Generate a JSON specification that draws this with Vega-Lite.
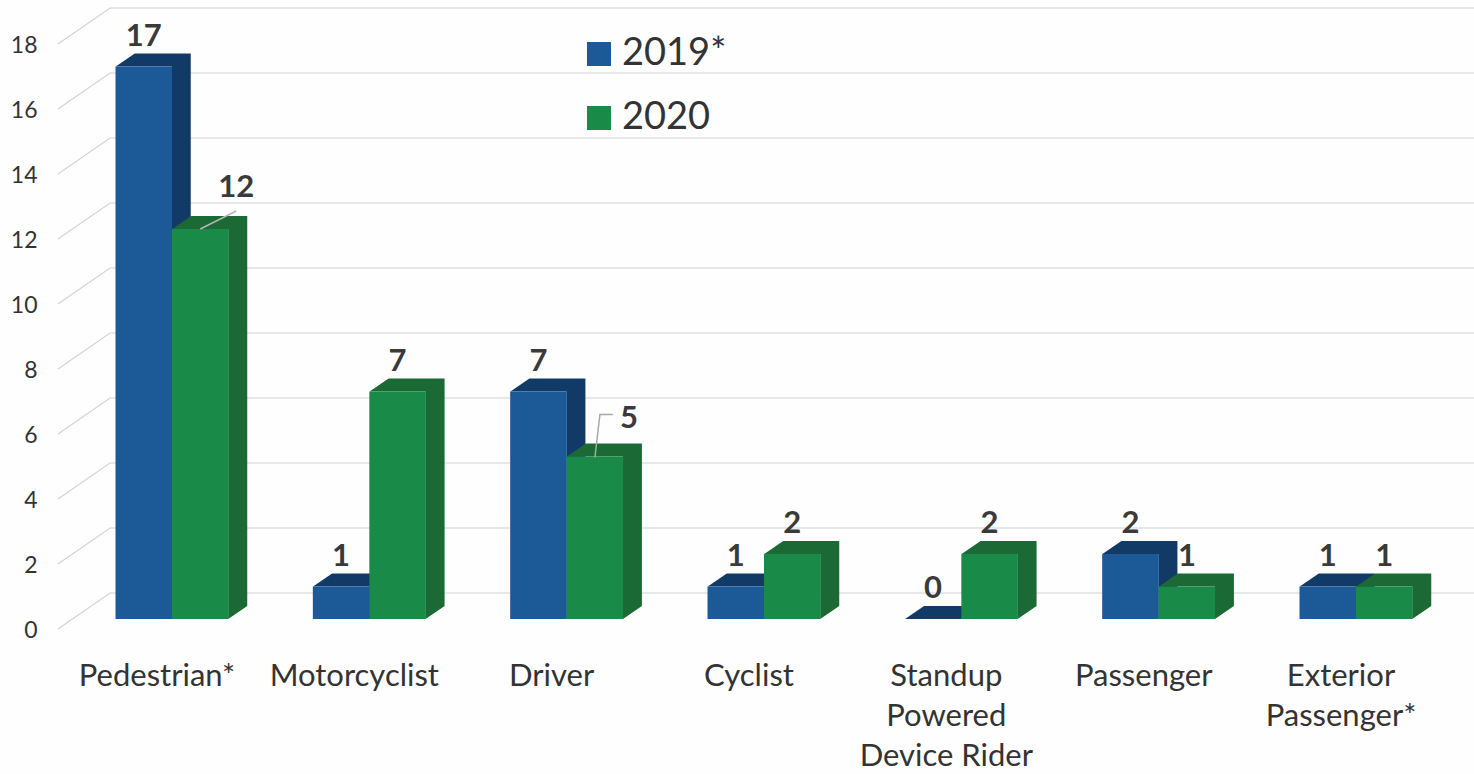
{
"$schema":"https://vega.github.io/schema/vega-lite/v6.json",
"width":1474,"height":774,"autosize":{"type":"none"},"padding":0,"background":"#fefefe",
"config":{"view":{"stroke":null},"font":"Lato"},
"data":{"values":[
{"category":"Pedestrian*","year":"2019*","value":17},
{"category":"Motorcyclist","year":"2019*","value":1},
{"category":"Driver","year":"2019*","value":7},
{"category":"Cyclist","year":"2019*","value":1},
{"category":"Standup|Powered|Device Rider","year":"2019*","value":0},
{"category":"Passenger","year":"2019*","value":2},
{"category":"Exterior|Passenger*","year":"2019*","value":1},
{"category":"Pedestrian*","year":"2020","value":12},
{"category":"Motorcyclist","year":"2020","value":7},
{"category":"Driver","year":"2020","value":5},
{"category":"Cyclist","year":"2020","value":2},
{"category":"Standup|Powered|Device Rider","year":"2020","value":2},
{"category":"Passenger","year":"2020","value":1},
{"category":"Exterior|Passenger*","year":"2020","value":1}
]},
"encoding":{
"y":{"field":"value","type":"quantitative","stack":null,"scale":{"domain":[0,18],"range":[619,34],"nice":false},
 "axis":{"orient":"left","offset":-37,"values":[0,2,4,6,8,10,12,14,16,18],"title":null,"domain":false,"ticks":false,"grid":false,"labelPadding":0,"labelOffset":11,"labelFontSize":23,"labelColor":"#333333","labelFont":"Lato"}},
"x":{"field":"category","type":"nominal","sort":null,"scale":{"domain":["Pedestrian*","Motorcyclist","Driver","Cyclist","Standup|Powered|Device Rider","Passenger","Exterior|Passenger*"],"range":[73.33,1454.67],"paddingInner":0.4274,"paddingOuter":0.2137},
 "axis":{"orient":"bottom","offset":-132,"title":null,"domain":false,"ticks":false,"grid":false,"labelAngle":0,"labelAlign":"center","labelBaseline":"top","labelPadding":19,"labelOffset":-15,"labelFontSize":31,"labelLineHeight":40,"labelColor":"#333333","labelFont":"Lato","labelExpr":"split(datum.value,'|')"}},
"xOffset":{"field":"year","type":"nominal","scale":{"domain":["2019*","2020"],"paddingInner":0,"paddingOuter":0}}
},
"layer":[
{"data":{"values":[{"value":0},{"value":2},{"value":4},{"value":6},{"value":8},{"value":10},{"value":12},{"value":14},{"value":16},{"value":18}]},
 "mark":{"type":"point","shape":"M58,10 L110,-26 L1474,-26","size":4,"filled":false,"stroke":"#d2d2d8","strokeWidth":1.2,"opacity":1},
 "encoding":{"x":{"value":0},"xOffset":null}},
{"mark":{"type":"point","size":4,"filled":true,"opacity":1,"strokeWidth":0},
 "encoding":{
  "fill":{"condition":{"test":"datum.year=='2019*'","value":"#123a66"},"value":"#1b6a35"},
  "shape":{"field":"value","type":"nominal","legend":null,"scale":{"domain":[0,1,2,5,7,12,17],"range":[
   "M-28,0L-9,-13L47,-13L28,0Z",
   "M-28,0L-9,-13L47,-13L47,19.5L28,32.5L28,0Z",
   "M-28,0L-9,-13L47,-13L47,52L28,65L28,0Z",
   "M-28,0L-9,-13L47,-13L47,149.5L28,162.5L28,0Z",
   "M-28,0L-9,-13L47,-13L47,214.5L28,227.5L28,0Z",
   "M-28,0L-9,-13L47,-13L47,377L28,390L28,0Z",
   "M-28,0L-9,-13L47,-13L47,539.5L28,552.5L28,0Z"]}}
 }},
{"mark":{"type":"bar"},
 "encoding":{
  "color":{"field":"year","type":"nominal","scale":{"domain":["2019*","2020"],"range":["#1c5a97","#198a47"]},
   "legend":{"title":null,"orient":"none","legendX":580,"legendY":35,"symbolType":"square","symbolSize":576,"symbolStrokeWidth":0,"labelFontSize":38,"labelColor":"#333333","labelFont":"Lato","rowPadding":26,"labelOffset":4,"padding":0}}
 }},
{"transform":[{"filter":"datum.value!=12 && !(datum.value==5)"}],
 "mark":{"type":"text","fontSize":31,"fontWeight":"bold","color":"#3a3a3a","baseline":"alphabetic","dy":-21},
 "encoding":{"text":{"field":"value","type":"quantitative"}}},
{"transform":[{"filter":"datum.value==12"}],
 "mark":{"type":"text","fontSize":31,"fontWeight":"bold","color":"#3a3a3a","baseline":"alphabetic","dy":-32,"dx":36},
 "encoding":{"text":{"field":"value","type":"quantitative"}}},
{"transform":[{"filter":"datum.value==5"}],
 "mark":{"type":"text","fontSize":31,"fontWeight":"bold","color":"#3a3a3a","baseline":"alphabetic","dy":-29,"dx":34},
 "encoding":{"text":{"field":"value","type":"quantitative"}}},
{"transform":[{"filter":"datum.value==12"}],
 "mark":{"type":"point","shape":"M0,0L36,-18","size":4,"filled":false,"stroke":"#b5b5b5","strokeWidth":1.5,"opacity":1}},
{"transform":[{"filter":"datum.value==5"}],
 "mark":{"type":"point","shape":"M0,1L5,-42L18,-42","size":4,"filled":false,"stroke":"#a8a8a8","strokeWidth":1.5,"opacity":1}}
]
}
